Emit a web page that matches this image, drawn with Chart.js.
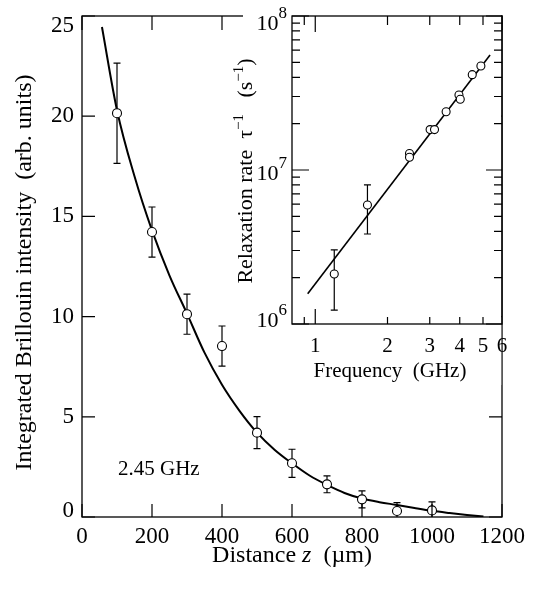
<!DOCTYPE html>
<html>
<head>
<meta charset="utf-8">
<script src="https://cdn.jsdelivr.net/npm/chart.js@4.4.1/dist/chart.umd.min.js"></script>
<style>
  body { margin: 0; background: #fff; }
  #wrap { position: relative; width: 538px; height: 591px; }
  #main { position: absolute; left: 0; top: 0; }
  #inset { position: absolute; left: 215px; top: 0; }
</style>
</head>
<body>
<div id="wrap">
  <canvas id="main" width="538" height="591"></canvas>
  <canvas id="inset" width="323" height="390"></canvas>
</div>
<script>
// --- main panel: integrated Brillouin intensity vs distance (2.45 GHz) ---
const distance = [100, 200, 300, 400, 500, 600, 700, 800, 900, 1000];
const intensity = [20.15, 14.22, 10.12, 8.53, 4.21, 2.68, 1.63, 0.88, 0.30, 0.33];
const intensityErr = [2.5, 1.25, 1.0, 1.0, 0.8, 0.7, 0.42, 0.42, 0.42, 0.42];
const fitDistance = [57, 100, 150, 200, 250, 300, 350, 400, 450, 500, 550, 600, 650, 700, 750, 800, 850, 900, 950, 1000, 1050, 1100, 1147];
const fitIntensity = [24.45, 20.3, 17.0, 14.3, 12.05, 10.15, 8.2, 6.6, 5.3, 4.21, 3.36, 2.68, 2.07, 1.6, 1.2, 0.92, 0.74, 0.6, 0.45, 0.31, 0.2, 0.1, 0.02];
const distanceTicks = [0, 200, 400, 600, 800, 1000, 1200];
const intensityTicks = [0, 5, 10, 15, 20, 25];

// --- inset: relaxation rate vs frequency ---
const frequency = [1.20, 1.65, 2.47, 2.47, 3.01, 3.14, 3.51, 3.97, 4.02, 4.51, 4.90];
const rate = [2.11e6, 5.93e6, 1.28e7, 1.21e7, 1.83e7, 1.83e7, 2.39e7, 3.07e7, 2.88e7, 4.16e7, 4.73e7];
const rateLow = [1.23e6, 3.84e6, null, null, null, null, null, null, null, null, null];
const rateHigh = [3.03e6, 8.0e6, null, null, null, null, null, null, null, null, null];
const fitFrequency = [0.93, 5.35];
const fitRate = [1.57e6, 5.58e7];
const freqTicks = [1, 2, 3, 4, 5, 6];
const freqMinorTicks = [0.9, 2, 3, 4, 5];
const rateDecades = [6, 7, 8];
const rateMinorTicks = [2e6, 3e6, 4e6, 5e6, 6e6, 7e6, 8e6, 9e6, 2e7, 3e7, 4e7, 5e7, 6e7, 7e7, 8e7, 9e7];

const SERIF = '"Liberation Serif", "Times New Roman", serif';
const font = (px, style = '') => (style ? style + ' ' : '') + px + 'px ' + SERIF;
const INSET_LEFT = 215; // page x of inset canvas

function drawPieces(ctx, pieces, x, y, align) {
    let w = 0;
    pieces.forEach(p => { ctx.font = p.font; w += ctx.measureText(p.text).width; });
    let cx = align === 'center' ? x - w / 2 : align === 'right' ? x - w : x;
    ctx.textAlign = 'left';
    ctx.textBaseline = 'alphabetic';
    pieces.forEach(p => {
        ctx.font = p.font;
        ctx.fillText(p.text, cx, y - (p.rise || 0));
        cx += ctx.measureText(p.text).width;
    });
}

function drawErrorBars(chart, xs, lo, hi, cap) {
    const { ctx, chartArea: a, scales: { x, y } } = chart;
    ctx.save();
    ctx.strokeStyle = '#000';
    ctx.lineWidth = 1.2;
    xs.forEach((v, i) => {
        if (lo[i] == null) return;
        const px = x.getPixelForValue(v);
        let y1 = y.getPixelForValue(hi[i]);
        let y2 = y.getPixelForValue(lo[i]);
        const clipTop = y1 < a.top, clipBot = y2 > a.bottom;
        y1 = Math.max(y1, a.top);
        y2 = Math.min(y2, a.bottom);
        ctx.beginPath();
        ctx.moveTo(px, y1); ctx.lineTo(px, y2);
        if (!clipTop) { ctx.moveTo(px - cap, y1); ctx.lineTo(px + cap, y1); }
        if (!clipBot) { ctx.moveTo(px - cap, y2); ctx.lineTo(px + cap, y2); }
        ctx.stroke();
    });
    ctx.restore();
}

function frame(ctx, a, lw) {
    ctx.lineWidth = lw;
    ctx.strokeRect(a.left, a.top, a.right - a.left, a.bottom - a.top);
}

const mainDecor = {
    id: 'mainDecor',
    beforeDatasetsDraw(chart) {
        const lo = intensity.map((v, i) => v - intensityErr[i]);
        const hi = intensity.map((v, i) => v + intensityErr[i]);
        drawErrorBars(chart, distance, lo, hi, 3.5);
    },
    afterDraw(chart) {
        const { ctx, chartArea: a, scales: { x, y } } = chart;
        ctx.save();
        ctx.strokeStyle = '#000';
        ctx.fillStyle = '#000';
        frame(ctx, a, 1.3);

        // inward ticks on all four sides
        ctx.beginPath();
        distanceTicks.forEach(v => {
            const px = x.getPixelForValue(v);
            ctx.moveTo(px, a.bottom); ctx.lineTo(px, a.bottom - 13);
            ctx.moveTo(px, a.top); ctx.lineTo(px, a.top + 14);
        });
        intensityTicks.forEach(v => {
            const py = y.getPixelForValue(v);
            ctx.moveTo(a.left, py); ctx.lineTo(a.left + 13, py);
            ctx.moveTo(a.right, py); ctx.lineTo(a.right - 13, py);
        });
        ctx.lineWidth = 1.2;
        ctx.stroke();

        // tick labels
        ctx.font = font(23);
        ctx.textAlign = 'center';
        ctx.textBaseline = 'alphabetic';
        distanceTicks.forEach(v => ctx.fillText(String(v), x.getPixelForValue(v), a.bottom + 26));
        ctx.textAlign = 'right';
        ctx.textBaseline = 'middle';
        intensityTicks.forEach(v => {
            const py = Math.min(Math.max(y.getPixelForValue(v), a.top + 9.5), a.bottom - 6.5);
            ctx.fillText(String(v), a.left - 8, py);
        });

        // axis titles
        drawPieces(ctx, [
            { text: 'Distance ', font: font(24) },
            { text: 'z', font: font(24, 'italic') },
            { text: '  (\u00b5m)', font: font(24) }
        ], (a.left + a.right) / 2, 562, 'center');

        ctx.save();
        ctx.translate(31, (a.top + a.bottom) / 2 + 6);
        ctx.rotate(-Math.PI / 2);
        drawPieces(ctx, [{ text: 'Integrated Brillouin intensity  (arb. units)', font: font(24) }], 0, 0, 'center');
        ctx.restore();

        // frequency annotation
        drawPieces(ctx, [{ text: '2.45 GHz', font: font(21) }], 118, 475, 'left');
        ctx.restore();
    }
};

const insetDecor = {
    id: 'insetDecor',
    beforeDraw(chart) {
        const { ctx, chartArea: a } = chart;
        ctx.save();
        ctx.fillStyle = '#fff';
        const x0 = 243 - INSET_LEFT;
        ctx.fillRect(x0, 0, a.right - x0 - 0.8, 385);
        ctx.restore();
    },
    beforeDatasetsDraw(chart) {
        drawErrorBars(chart, frequency, rateLow, rateHigh, 3.5);
    },
    afterDraw(chart) {
        const { ctx, chartArea: a, scales: { x, y } } = chart;
        ctx.save();
        ctx.strokeStyle = '#000';
        ctx.fillStyle = '#000';
        frame(ctx, a, 1.3);

        ctx.beginPath();
        [1].forEach(v => {
            const px = x.getPixelForValue(v);
            ctx.moveTo(px, a.bottom); ctx.lineTo(px, a.bottom - 15);
            ctx.moveTo(px, a.top); ctx.lineTo(px, a.top + 16);
        });
        freqMinorTicks.forEach(v => {
            const px = x.getPixelForValue(v);
            ctx.moveTo(px, a.bottom); ctx.lineTo(px, a.bottom - 7);
            ctx.moveTo(px, a.top); ctx.lineTo(px, a.top + 9);
        });
        rateDecades.forEach(e => {
            const py = y.getPixelForValue(Math.pow(10, e));
            ctx.moveTo(a.left, py); ctx.lineTo(a.left + 17, py);
            ctx.moveTo(a.right, py); ctx.lineTo(a.right - 16, py);
        });
        rateMinorTicks.forEach(v => {
            const py = y.getPixelForValue(v);
            ctx.moveTo(a.left, py); ctx.lineTo(a.left + 8, py);
            ctx.moveTo(a.right, py); ctx.lineTo(a.right - 8, py);
        });
        ctx.lineWidth = 1.2;
        ctx.stroke();

        // x tick labels
        ctx.font = font(21);
        ctx.textAlign = 'center';
        ctx.textBaseline = 'alphabetic';
        freqTicks.forEach(v => ctx.fillText(String(v), x.getPixelForValue(v), a.bottom + 28));

        // y tick labels 10^n
        rateDecades.forEach(e => {
            const py = y.getPixelForValue(Math.pow(10, e));
            const base = Math.min(Math.max(py + 10, a.top + 14), a.bottom + 3);
            drawPieces(ctx, [
                { text: '10', font: font(22) },
                { text: String(e), font: font(17), rise: 12 }
            ], a.left - 5, base, 'right');
        });

        // axis titles
        drawPieces(ctx, [{ text: 'Frequency  (GHz)', font: font(21) }], 390 - INSET_LEFT, 377, 'center');

        ctx.save();
        ctx.translate(252 - INSET_LEFT, (a.top + a.bottom) / 2 + 1);
        ctx.rotate(-Math.PI / 2);
        drawPieces(ctx, [
            { text: 'Relaxation rate  ', font: font(22) },
            { text: '\u03c4', font: font(22) },
            { text: '\u22121', font: font(15), rise: 9 },
            { text: '   (s', font: font(22) },
            { text: '\u22121', font: font(15), rise: 9 },
            { text: ')', font: font(22) }
        ], 0, 0, 'center');
        ctx.restore();
        ctx.restore();
    }
};

const baseOptions = {
    responsive: false,
    animation: false,
    events: [],
    plugins: { legend: { display: false }, tooltip: { enabled: false } }
};

new Chart(document.getElementById('main'), {
    type: 'scatter',
    data: {
        datasets: [
            {
                data: distance.map((v, i) => ({ x: v, y: intensity[i] })),
                pointRadius: 4.5,
                pointBackgroundColor: '#fff',
                pointBorderColor: '#000',
                pointBorderWidth: 1.1,
                showLine: false
            },
            {
                data: fitDistance.map((v, i) => ({ x: v, y: fitIntensity[i] })),
                showLine: true,
                pointRadius: 0,
                borderColor: '#000',
                borderWidth: 2,
                cubicInterpolationMode: 'monotone'
            }
        ]
    },
    options: {
        ...baseOptions,
        layout: { padding: { left: 82, right: 36, top: 16, bottom: 74 } },
        scales: {
            x: { type: 'linear', min: 0, max: 1200, display: false },
            y: { type: 'linear', min: 0, max: 25, display: false }
        }
    },
    plugins: [mainDecor]
});

new Chart(document.getElementById('inset'), {
    type: 'scatter',
    data: {
        datasets: [
            {
                data: frequency.map((v, i) => ({ x: v, y: rate[i] })),
                pointRadius: 4,
                pointBackgroundColor: '#fff',
                pointBorderColor: '#000',
                pointBorderWidth: 1.1,
                showLine: false
            },
            {
                data: fitFrequency.map((v, i) => ({ x: v, y: fitRate[i] })),
                showLine: true,
                pointRadius: 0,
                borderColor: '#000',
                borderWidth: 1.6
            }
        ]
    },
    options: {
        ...baseOptions,
        layout: { padding: { left: 292 - INSET_LEFT, right: 323 - (502 - INSET_LEFT), top: 16, bottom: 390 - 324 } },
        scales: {
            x: { type: 'logarithmic', min: 0.8, max: 6, display: false },
            y: { type: 'logarithmic', min: 1e6, max: 1e8, display: false }
        }
    },
    plugins: [insetDecor]
});
</script>
</body>
</html>
